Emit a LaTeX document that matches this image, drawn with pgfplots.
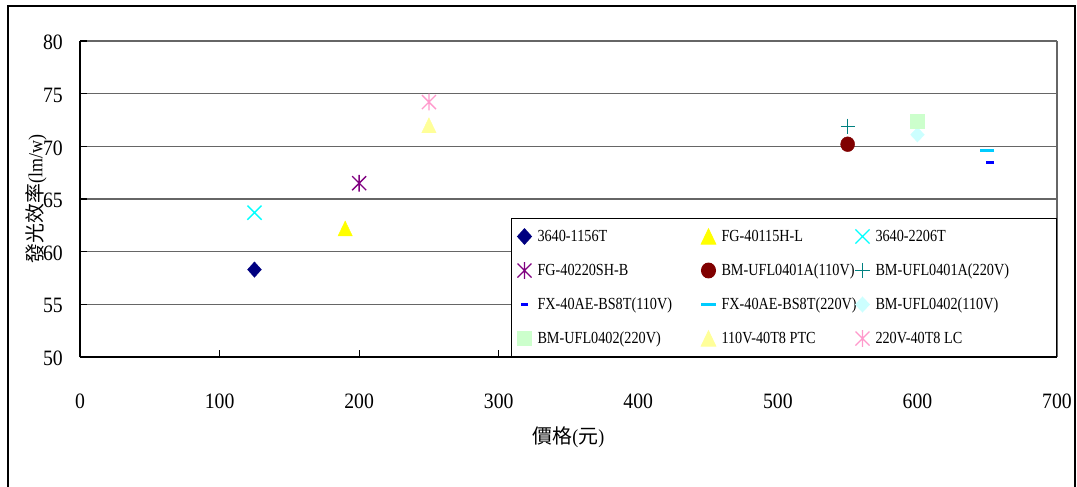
\documentclass[border=0pt]{standalone}
\usepackage{pgfplots}
\pgfplotsset{compat=1.18}
\usepackage{fontspec}
\setmainfont{Liberation Serif}[FakeStretch=0.9]
\newfontfamily\legfont{Liberation Serif}[FakeStretch=0.84]
\newfontfamily\cjk{Noto Sans CJK TC}

\definecolor{cNavy}{RGB}{0,0,128}
\definecolor{cYellow}{RGB}{255,255,0}
\definecolor{cCyan}{RGB}{0,255,255}
\definecolor{cPurple}{RGB}{128,0,128}
\definecolor{cDarkRed}{RGB}{128,0,0}
\definecolor{cTeal}{RGB}{0,128,128}
\definecolor{cBlue}{RGB}{0,0,255}
\definecolor{cSky}{RGB}{0,204,255}
\definecolor{cLightCyan}{RGB}{204,255,255}
\definecolor{cLightGreen}{RGB}{204,255,204}
\definecolor{cLightYellow}{RGB}{255,255,153}
\definecolor{cPink}{RGB}{255,153,204}

% X with a vertical bar through it
\pgfdeclareplotmark{xstar}{%
  \pgfpathmoveto{\pgfqpoint{-\pgfplotmarksize}{-\pgfplotmarksize}}%
  \pgfpathlineto{\pgfqpoint{\pgfplotmarksize}{\pgfplotmarksize}}%
  \pgfpathmoveto{\pgfqpoint{-\pgfplotmarksize}{\pgfplotmarksize}}%
  \pgfpathlineto{\pgfqpoint{\pgfplotmarksize}{-\pgfplotmarksize}}%
  \pgfpathmoveto{\pgfqpoint{0pt}{-1.2\pgfplotmarksize}}%
  \pgfpathlineto{\pgfqpoint{0pt}{1.2\pgfplotmarksize}}%
  \pgfusepathqstroke}

\pgfplotsset{
  pt/.style={only marks,
    legend image code/.code={%
      \path[draw=none, fill=none] (-8bp,-9.5bp) rectangle (8bp,9.5bp);
      \draw[##1] plot coordinates {(0bp,0bp)};}},
}

% legend cells of the three columns
\newcommand\la[1]{\makebox[168bp][l]{\hspace*{5bp}#1}}
\newcommand\lb[1]{\makebox[138bp][l]{\hspace*{5bp}#1}}
\newcommand\lc[1]{\makebox[181bp][l]{\hspace*{5bp}#1}}

\begin{document}
\begin{tikzpicture}
\useasboundingbox (-80bp,-130bp) rectangle (997bp,357bp);
\begin{axis}[
  at={(0bp,0bp)}, anchor=south west,
  scale only axis, width=977bp, height=316bp,
  xmin=0, xmax=700, ymin=50, ymax=80,
  xtick={0,100,...,700}, ytick={50,55,...,80},
  axis x line*=bottom, axis y line*=left,
  axis line style={black, line width=1.5bp, -},
  tick align=inside, major tick length=7bp,
  tick style={black, line width=1.2bp},
  ymajorgrids, grid style={black!60, line width=1.5bp},
  extra x ticks={700}, extra x tick labels={},
  extra x tick style={grid=major, major tick length=0pt},
  /pgf/number format/assume math mode=true,
  ticklabel style={font=\fontsize{22}{26}\selectfont, inner sep=0pt},
  xticklabel style={anchor=north, yshift=-37bp},
  yticklabel style={anchor=east, xshift=-17bp, yshift=-1.5bp},
  xlabel={{\cjk 價格}({\cjk 元})},
  ylabel={{\cjk 發光效率}(lm/w)},
  xlabel style={at={(axis description cs:0.5,-0.2532)}, anchor=center,
    font=\fontsize{20}{24}\selectfont},
  ylabel style={at={(axis description cs:-0.045,0.5)}, anchor=center,
    font=\fontsize{20}{24}\selectfont},
  legend columns=3, legend cell align=left,
  legend style={at={(rel axis cs:1,0)}, anchor=south east,
    draw=black, line width=1bp, fill=white,
    inner xsep=5bp, inner ysep=8.5bp,
    column sep=0bp, row sep=15bp,
    font=\legfont\fontsize{17}{20}\selectfont,
    nodes={inner sep=0pt, text height=12.5bp, text depth=2.5bp}},
]
\addplot[pt, mark=diamond*, mark size=7.7bp, color=cNavy,
  mark options={xscale=1.2}] coordinates {(125,58.3)};
\addlegendentry{\la{3640-1156T}}
\addplot[pt, mark=triangle*, mark size=10bp, color=cYellow,
  mark options={xscale=0.83, yshift=-2.5bp}] coordinates {(190,62.2)};
\addlegendentry{\lb{FG-40115H-L}}
\addplot[pt, mark=x, mark size=10bp, line width=1.4bp, color=cCyan]
  coordinates {(125,63.7)};
\addlegendentry{\lc{3640-2206T}}
\addplot[pt, mark=xstar, mark size=7bp, line width=1.3bp, color=cPurple]
  coordinates {(200,66.5)};
\addlegendentry{\la{FG-40220SH-B}}
\addplot[pt, mark=*, mark size=7bp, color=cDarkRed,
  mark options={yscale=1.06}] coordinates {(550,70.2)};
\addlegendentry{\lb{BM-UFL0401A(110V)}}
\addplot[pt, mark=+, mark size=7bp, line width=1.4bp, color=cTeal,
  mark options={yscale=1.1}] coordinates {(550,71.9)};
\addlegendentry{\lc{BM-UFL0401A(220V)}}
\addplot[pt, mark=-, mark size=3.7bp, line width=3bp, color=cBlue]
  coordinates {(652,68.5)};
\addlegendentry{\la{FX-40AE-BS8T(110V)}}
\addplot[pt, mark=-, mark size=7bp, line width=3bp, color=cSky]
  coordinates {(650,69.6)};
\addlegendentry{\lb{FX-40AE-BS8T(220V)}}
\addplot[pt, mark=diamond*, mark size=7.3bp, color=cLightCyan,
  mark options={xscale=1.25}] coordinates {(600,71.1)};
\addlegendentry{\lc{BM-UFL0402(110V)}}
\addplot[pt, mark=square*, mark size=6.8bp, color=cLightGreen]
  coordinates {(600,72.4)};
\addlegendentry{\la{BM-UFL0402(220V)}}
\addplot[pt, mark=triangle*, mark size=10bp, color=cLightYellow,
  mark options={xscale=0.83, yshift=-2.5bp}] coordinates {(250,72.0)};
\addlegendentry{\lb{110V-40T8 PTC}}
\addplot[pt, mark=xstar, mark size=7bp, line width=1.3bp, color=cPink]
  coordinates {(250,74.2)};
\addlegendentry{\lc{220V-40T8 LC}}
\end{axis}
% chart frame
\draw[line width=1.5bp, black] (-72bp,-130bp) -- (-72bp,351bp) -- (995bp,351bp) -- (995bp,-130bp);
\end{tikzpicture}
\end{document}
